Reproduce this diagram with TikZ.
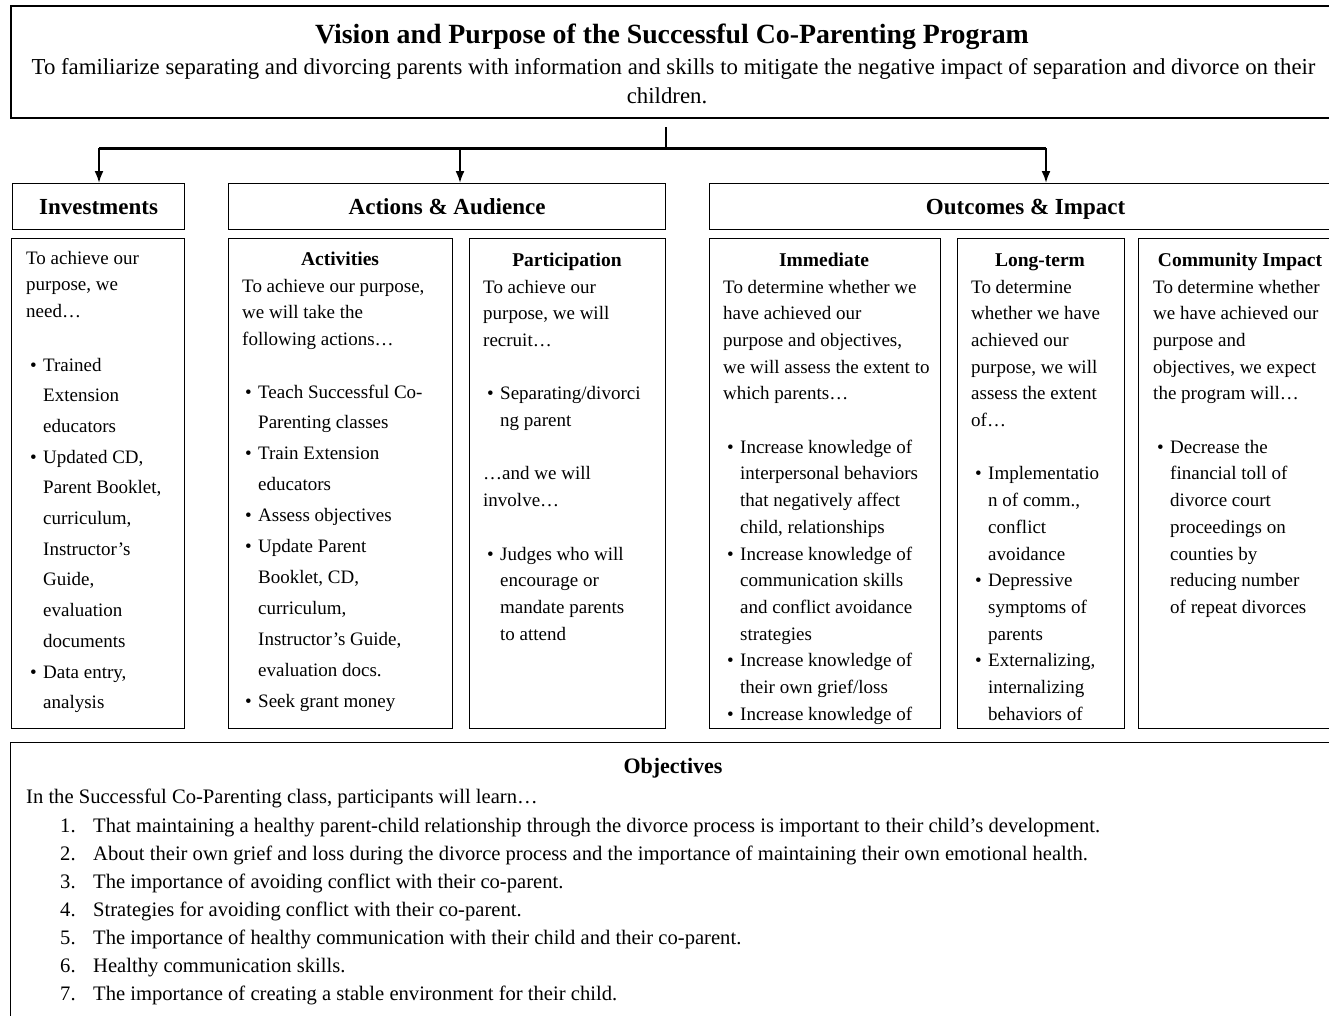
\documentclass[tikz,border=0pt]{standalone}
\usepackage{fontspec}
\setmainfont{Liberation Serif}
\usetikzlibrary{arrows.meta}
\newcommand{\myb}{\hspace*{4pt}\makebox[13pt][l]{\textbullet}}
\newcommand{\myi}{\hspace*{17pt}}
\newcommand{\cpblock}[3][19]{\begin{minipage}[t]{1260pt}\raggedright\fontsize{#1}{#2}\selectfont #3\end{minipage}}
\begin{document}
\begin{tikzpicture}[x=1pt,y=-1pt,
  box/.style={draw=black, line width=1.2pt, inner sep=0pt, anchor=north west},
  hdr/.style={box, font=\fontsize{23}{27}\selectfont\bfseries, text height=15pt, text depth=0pt},
  txt/.style={inner sep=0pt, anchor=base west},
  ctitle/.style={inner sep=0pt, anchor=base, font=\fontsize{19.5}{24}\selectfont\bfseries},
  conn/.style={line width=2pt},
  arr/.style={line width=2pt, -{Latex[length=12pt,width=9pt]}}
]
\useasboundingbox (0,0) rectangle (1329,1015);
\clip (0,0) rectangle (1329,1015);
\fill[white] (0,0) rectangle (1329,1015);

% top box
\node[box, line width=1.5pt, minimum width=1324pt, minimum height=112pt] (vision) at (10,5) {};
\node[inner sep=0pt, anchor=base, font=\fontsize{27.8}{32}\selectfont\bfseries] (ttl) at (672,43) {Vision and Purpose of the Successful Co-Parenting Program};
\node[inner sep=0pt, anchor=base, font=\fontsize{22.8}{27}\selectfont] (sub1) at (673.5,74) {To familiarize separating and divorcing parents with information and skills to mitigate the negative impact of separation and divorce on their};
\node[inner sep=0pt, anchor=base, font=\fontsize{22.8}{27}\selectfont] (sub2) at (667,103) {children.};

% header boxes
\node[hdr, minimum width=172pt, minimum height=46pt] (inv) at (12,183) {Investments};
\node[hdr, minimum width=437pt, minimum height=46pt] (act) at (228,183) {Actions \& Audience};
\node[hdr, minimum width=632pt, minimum height=46pt] (out) at (709,183) {Outcomes \& Impact};

% connectors
\coordinate (stemtop) at (666,127);
\coordinate (hub) at (666,148);
\coordinate (jinv) at (99,148);
\coordinate (jact) at (460,148);
\coordinate (jout) at (1046,148);
\draw[conn] (stemtop) -- (hub);
\draw[line width=3pt] (jinv) -- (jout);
\draw[arr] (jinv) -- (jinv |- inv.north);
\draw[arr] (jact) -- (jact |- act.north);
\draw[arr] (jout) -- (jout |- out.north);

% content boxes
\node[box, minimum width=173pt, minimum height=490pt] (invbox) at (11,238) {};
\node[box, minimum width=224pt, minimum height=490pt] (actbox) at (228,238) {};
\node[box, minimum width=196pt, minimum height=490pt] (parbox) at (469,238) {};
\node[box, minimum width=231pt, minimum height=490pt] (immbox) at (709,238) {};
\node[box, minimum width=167pt, minimum height=490pt] (ltbox) at (957,238) {};
\node[box, minimum width=204pt, minimum height=490pt] (cibox) at (1138,238) {};

% Investments
\node[txt] (invtxt) at (26,264) {\cpblock{26.5}{To achieve our\\purpose, we\\need…}};
\node[txt] (invlist) at (26,371) {\cpblock{30.7}{\myb Trained\\\myi Extension\\\myi educators\\\myb Updated CD,\\\myi Parent Booklet,\\\myi curriculum,\\\myi Instructor’s\\\myi Guide,\\\myi evaluation\\\myi documents\\\myb Data entry,\\\myi analysis}};

% Activities
\node[ctitle] (acttl) at (340,265) {Activities};
\node[txt] (acttxt) at (242,292) {\cpblock{26.8}{To achieve our purpose,\\we will take the\\following actions…}};
\node[txt] (actlist) at (241,398) {\cpblock{30.9}{\myb Teach Successful Co-\\\myi Parenting classes\\\myb Train Extension\\\myi educators\\\myb Assess objectives\\\myb Update Parent\\\myi Booklet, CD,\\\myi curriculum,\\\myi Instructor’s Guide,\\\myi evaluation docs.\\\myb Seek grant money}};

% Participation
\node[ctitle] (partl) at (567,266) {Participation};
\node[txt] (partxt) at (483,293) {\cpblock{26.7}{To achieve our\\purpose, we will\\recruit…\\\mbox{}\\\myb Separating/divorci\\\myi ng parent\\\mbox{}\\…and we will\\involve…\\\mbox{}\\\myb Judges who will\\\myi encourage or\\\myi mandate parents\\\myi to attend}};

% Immediate
\node[ctitle] (immtl) at (824,266) {Immediate};
\node[txt] (immtxt) at (723,293) {\cpblock{26.7}{To determine whether we\\have achieved our\\purpose and objectives,\\we will assess the extent to\\which parents…\\\mbox{}\\\myb Increase knowledge of\\\myi interpersonal behaviors\\\myi that negatively affect\\\myi child, relationships\\\myb Increase knowledge of\\\myi communication skills\\\myi and conflict avoidance\\\myi strategies\\\myb Increase knowledge of\\\myi their own grief/loss\\\myb Increase knowledge of}};

% Long-term
\node[ctitle] (lttl) at (1040,266) {Long-term};
\node[txt] (lttxt) at (971,293) {\cpblock{26.7}{To determine\\whether we have\\achieved our\\purpose, we will\\assess the extent\\of…\\\mbox{}\\\myb Implementatio\\\myi n of comm.,\\\myi conflict\\\myi avoidance\\\myb Depressive\\\myi symptoms of\\\myi parents\\\myb Externalizing,\\\myi internalizing\\\myi behaviors of}};

% Community Impact
\node[ctitle] (citl) at (1240,266) {Community Impact};
\node[txt] (citxt) at (1153,293) {\cpblock{26.7}{To determine whether\\we have achieved our\\purpose and\\objectives, we expect\\the program will…\\\mbox{}\\\myb Decrease the\\\myi financial toll of\\\myi divorce court\\\myi proceedings on\\\myi counties by\\\myi reducing number\\\myi of repeat divorces}};

% Objectives
\node[box, minimum width=1326pt, minimum height=300pt] (objbox) at (10,742) {};
\node[inner sep=0pt, anchor=base, font=\fontsize{22}{26}\selectfont\bfseries] (objtl) at (673,773) {Objectives};
\node[txt] (objintro) at (26,803) {\cpblock[20.6]{28}{In the Successful Co-Parenting class, participants will learn…}};
\node[txt] (objlist) at (60,832) {\cpblock[20.6]{28}{\makebox[33pt][l]{1.}That maintaining a healthy parent-child relationship through the divorce process is important to their child’s development.\\
\makebox[33pt][l]{2.}About their own grief and loss during the divorce process and the importance of maintaining their own emotional health.\\
\makebox[33pt][l]{3.}The importance of avoiding conflict with their co-parent.\\
\makebox[33pt][l]{4.}Strategies for avoiding conflict with their co-parent.\\
\makebox[33pt][l]{5.}The importance of healthy communication with their child and their co-parent.\\
\makebox[33pt][l]{6.}Healthy communication skills.\\
\makebox[33pt][l]{7.}The importance of creating a stable environment for their child.}};
\end{tikzpicture}
\end{document}
